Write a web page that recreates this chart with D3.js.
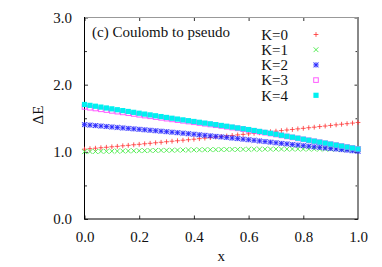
<!DOCTYPE html>
<html><head><meta charset="utf-8">
<script src="https://cdn.jsdelivr.net/npm/d3@7"></script>
<style>
html,body{margin:0;padding:0;background:#fff;}
svg text{font-family:"Liberation Serif","Times New Roman",serif !important;}
</style></head>
<body><svg id="c" width="382" height="267"></svg>
<script>
const xs = [0.00,0.02,0.04,0.06,0.08,0.10,0.12,0.14,0.16,0.18,0.20,0.22,0.24,0.26,0.28,0.30,0.32,0.34,0.36,0.38,0.40,0.42,0.44,0.46,0.48,0.50,0.52,0.54,0.56,0.58,0.60,0.62,0.64,0.66,0.68,0.70,0.72,0.74,0.76,0.78,0.80,0.82,0.84,0.86,0.88,0.90,0.92,0.94,0.96,0.98,1.00];
const K0 = [1.040,1.047,1.054,1.061,1.068,1.075,1.082,1.090,1.097,1.105,1.112,1.120,1.127,1.135,1.142,1.150,1.158,1.165,1.173,1.180,1.188,1.196,1.204,1.212,1.220,1.228,1.236,1.244,1.252,1.260,1.268,1.276,1.284,1.292,1.300,1.308,1.316,1.325,1.333,1.342,1.350,1.359,1.367,1.376,1.384,1.393,1.402,1.411,1.419,1.428,1.437];
const K1 = [1.002,1.004,1.005,1.007,1.008,1.010,1.011,1.013,1.014,1.016,1.017,1.018,1.020,1.021,1.022,1.023,1.024,1.026,1.027,1.028,1.029,1.030,1.031,1.032,1.033,1.034,1.035,1.036,1.036,1.037,1.038,1.039,1.039,1.040,1.040,1.041,1.041,1.041,1.042,1.042,1.042,1.042,1.042,1.042,1.042,1.042,1.042,1.041,1.041,1.040,1.040];
const K2 = [1.405,1.398,1.391,1.384,1.377,1.370,1.363,1.356,1.349,1.342,1.335,1.328,1.321,1.314,1.307,1.300,1.292,1.285,1.277,1.270,1.262,1.254,1.246,1.238,1.230,1.222,1.214,1.205,1.197,1.188,1.180,1.171,1.162,1.153,1.144,1.135,1.126,1.118,1.109,1.101,1.092,1.084,1.075,1.067,1.058,1.050,1.042,1.033,1.025,1.016,1.008];
const K3 = [1.668,1.656,1.645,1.633,1.622,1.610,1.598,1.587,1.575,1.564,1.552,1.540,1.529,1.517,1.506,1.494,1.483,1.472,1.462,1.451,1.440,1.429,1.418,1.407,1.396,1.385,1.373,1.361,1.350,1.338,1.326,1.312,1.299,1.285,1.272,1.258,1.244,1.229,1.215,1.200,1.186,1.172,1.157,1.143,1.128,1.114,1.100,1.086,1.072,1.058,1.044];
const K4 = [1.705,1.692,1.679,1.666,1.653,1.640,1.627,1.614,1.601,1.588,1.575,1.562,1.550,1.537,1.525,1.512,1.500,1.488,1.476,1.464,1.452,1.440,1.428,1.417,1.405,1.393,1.381,1.369,1.356,1.344,1.332,1.318,1.304,1.290,1.276,1.262,1.247,1.232,1.218,1.203,1.188,1.173,1.159,1.144,1.130,1.115,1.100,1.086,1.071,1.057,1.042];
const seriesNames = ["K=0","K=1","K=2","K=3","K=4"];
const seriesColors = ["#ff3030","#30e830","#2020ff","#ff40ff","#00f0f0"];
const seriesShapes = ["plus","cross","star","box","fbox"];
const xTicks = [0,0.2,0.4,0.6,0.8,1.0];
const yTicks = [0,1,2,3];
const yMinorTicks = [0.5,1.5,2.5];
const title = "(c) Coulomb to pseudo";
const xLabel = "x";
const yLabel = "ΔE";

const svg = d3.select("#c");
const L=84.5, R=358, T=17.5, B=219;
const x = d3.scaleLinear().domain([0,1]).range([L,R]);
const y = d3.scaleLinear().domain([0,3]).range([B,T]);
const FS = 15;

function marker(g, shape, color, cx, cy){
  const s=2.4;
  if(shape==="star"){
    g.append("rect").attr("x",cx-2.6).attr("y",cy-2.6).attr("width",5.2).attr("height",5.2).attr("fill",color).attr("opacity",0.3);
  }
  if(shape==="plus"||shape==="star"){
    g.append("path").attr("d",`M${cx-s},${cy}H${cx+s}M${cx},${cy-s}V${cy+s}`).attr("stroke",color).attr("stroke-width",1).attr("fill","none").attr("opacity",0.8);
  }
  if(shape==="cross"||shape==="star"){
    g.append("path").attr("d",`M${cx-s},${cy-s}L${cx+s},${cy+s}M${cx-s},${cy+s}L${cx+s},${cy-s}`).attr("stroke",color).attr("stroke-width",1).attr("fill","none").attr("opacity",0.8);
  }
  if(shape==="box"){
    g.append("rect").attr("x",cx-2.3).attr("y",cy-2.3).attr("width",4.6).attr("height",4.6).attr("stroke",color).attr("stroke-width",1).attr("fill","none").attr("opacity",0.85);
  }
  if(shape==="fbox"){
    g.append("rect").attr("x",cx-2.6).attr("y",cy-2.6).attr("width",5.2).attr("height",5.2).attr("fill",color);
  }
}

// axes ticks
const axB = d3.axisBottom(x).tickValues(xTicks).tickSize(-3.5).tickPadding(12).tickFormat(d3.format(".1f"));
const gB = svg.append("g").attr("transform",`translate(0,${B})`).call(axB);
const axT = d3.axisTop(x).tickValues(xTicks).tickSize(-3.5).tickFormat("");
const gT = svg.append("g").attr("transform",`translate(0,${T})`).call(axT);
const axL = d3.axisLeft(y).tickValues(yTicks).tickSize(-3.5).tickPadding(12).tickFormat(d3.format(".1f"));
const gL = svg.append("g").attr("transform",`translate(${L},0)`).call(axL);
const axLm = d3.axisLeft(y).tickValues(yMinorTicks).tickSize(-2.5).tickFormat("");
const gLm = svg.append("g").attr("transform",`translate(${L},0)`).call(axLm);
const axR = d3.axisRight(y).tickValues(yTicks).tickSize(-3.5).tickFormat("");
const gR = svg.append("g").attr("transform",`translate(${R},0)`).call(axR);
const axRm = d3.axisRight(y).tickValues(yMinorTicks).tickSize(-2.5).tickFormat("");
const gRm = svg.append("g").attr("transform",`translate(${R},0)`).call(axRm);
[gB,gT,gL,gLm,gR,gRm].forEach(g=>{
  g.attr("font-family",null);
  g.select(".domain").remove();
  g.selectAll(".tick line").attr("stroke","#333").attr("stroke-width",1);
  g.selectAll(".tick text").attr("font-size",FS).attr("fill","#111");
});
gL.selectAll(".tick text").attr("dx","-0.5");

// border
svg.append("line").attr("x1",L).attr("x2",R).attr("y1",T).attr("y2",T).attr("stroke","#999").attr("stroke-width",1);
svg.append("line").attr("x1",R).attr("x2",R).attr("y1",T-0.5).attr("y2",B+0.5).attr("stroke","#888").attr("stroke-width",2);
svg.append("line").attr("x1",L).attr("x2",L).attr("y1",T-0.5).attr("y2",B+0.5).attr("stroke","#000").attr("stroke-width",1);
svg.append("line").attr("x1",L).attr("x2",R).attr("y1",B).attr("y2",B).attr("stroke","#000").attr("stroke-width",1);

// data
const data = [K0,K1,K2,K3,K4];
data.forEach((vals,si)=>{
  const g = svg.append("g");
  vals.forEach((v,i)=>marker(g, seriesShapes[si], seriesColors[si], x(xs[i]), y(v)));
});

// title
svg.append("text").attr("x",92).attr("y",37).attr("font-size",FS).attr("fill","#111").text(title);

// legend
seriesNames.forEach((n,i)=>{
  const yy = 34.5 + i*15.2;
  svg.append("text").attr("x",288).attr("y",yy).attr("dy","0.35em").attr("text-anchor","end").attr("font-size",FS).attr("fill","#111").text(n);
  const g = svg.append("g");
  marker(g, seriesShapes[i], seriesColors[i], 316, yy);
});

// axis labels
svg.append("text").attr("x",(L+R)/2).attr("y",261).attr("text-anchor","middle").attr("font-size",FS).attr("fill","#111").text(xLabel);
svg.append("text").attr("transform","translate(43,115) rotate(-90)").attr("text-anchor","middle").attr("font-size",FS).attr("fill","#111").text(yLabel);
</script></body></html>
